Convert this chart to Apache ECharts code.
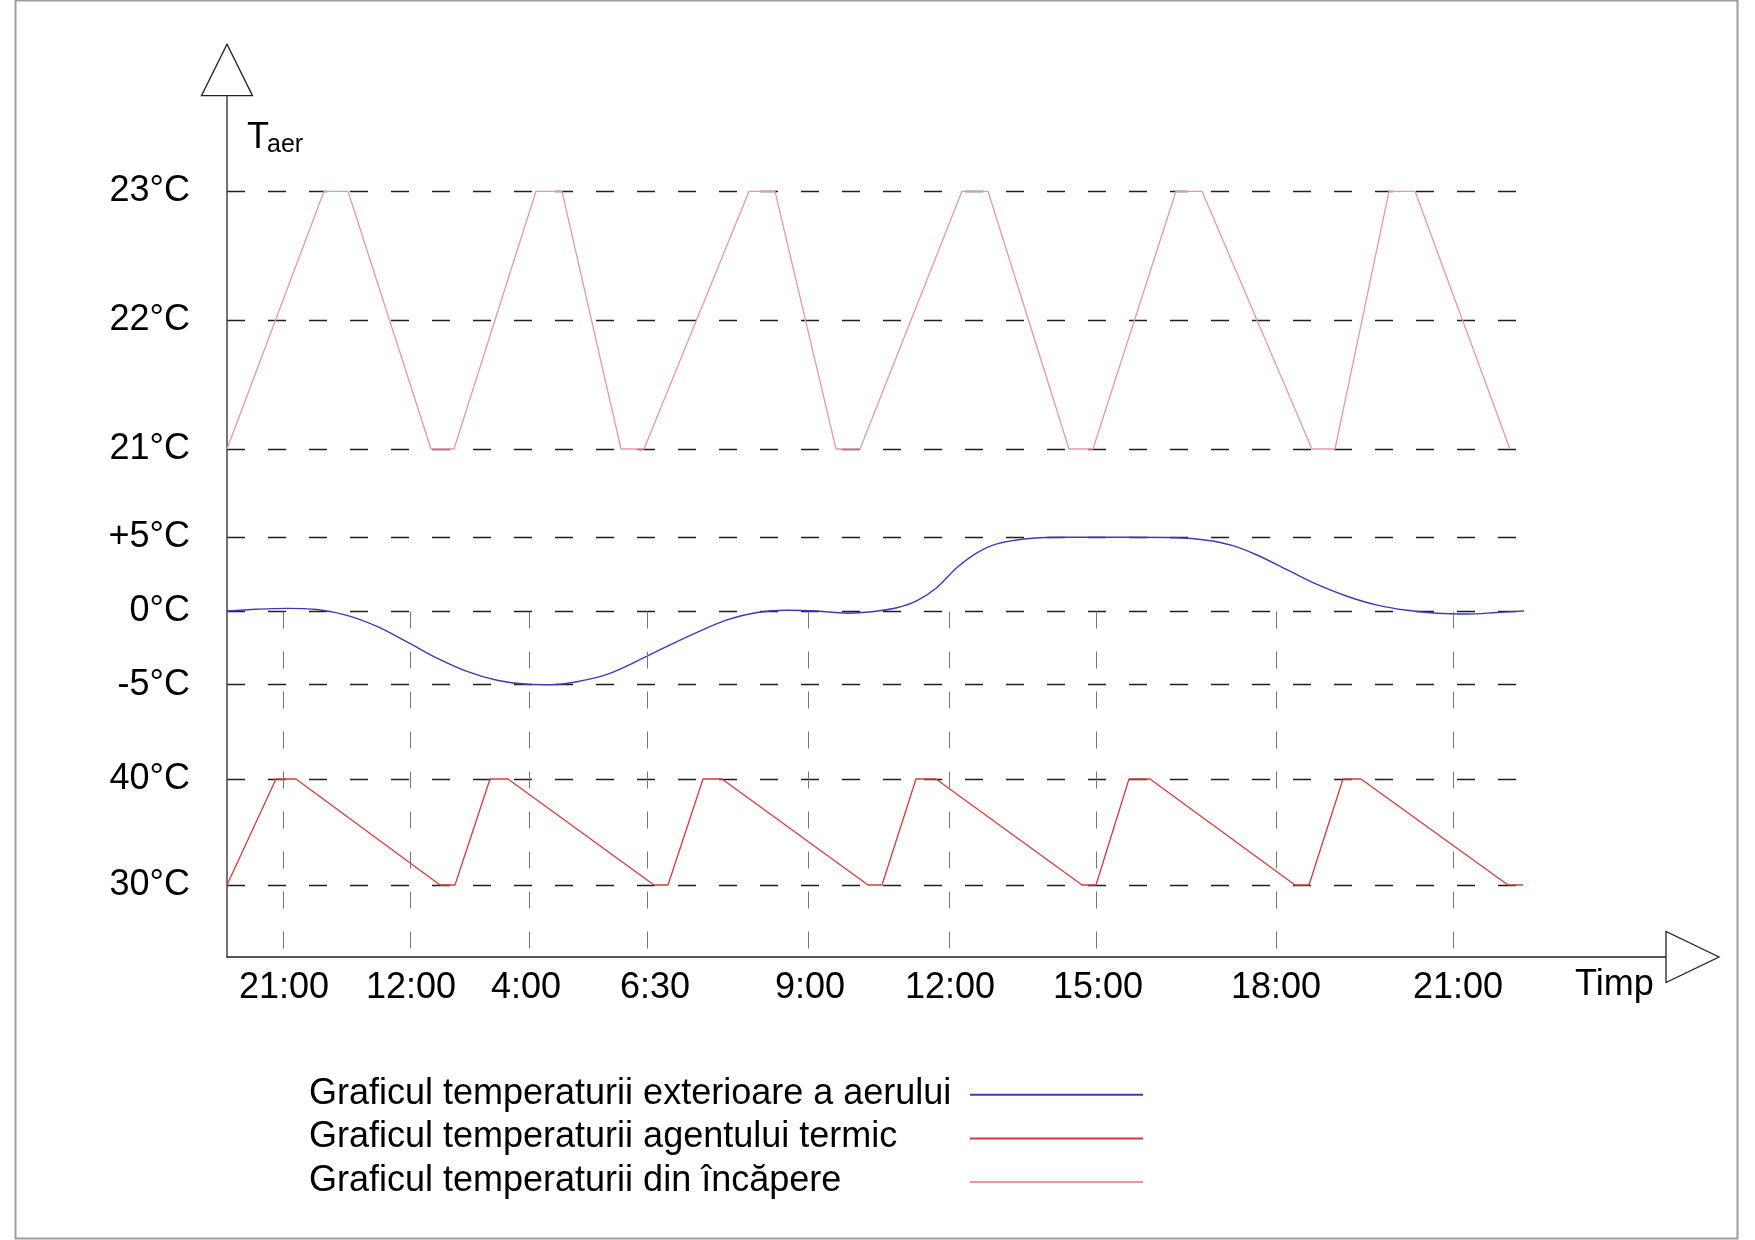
<!DOCTYPE html>
<html><head><meta charset="utf-8">
<script src="https://cdn.jsdelivr.net/npm/echarts@6/dist/echarts.min.js"></script>
<style>html,body{margin:0;padding:0;background:#fff}#c{width:1755px;height:1240px}</style>
</head><body><div id="c"></div><script>
const FONT = "'Liberation Sans', Arial, Helvetica, sans-serif";

// time axis (schematic units)
const timeLabels   = ['21:00','12:00','4:00','6:30','9:00','12:00','15:00','18:00','21:00'];
const timeLabelPos = [5.7, 18.4, 29.9, 42.8, 58.3, 72.3, 87.1, 104.9, 123.1];
const timeLinePos  = [5.6, 18.3, 30.2, 42.0, 58.1, 72.2, 86.9, 104.9, 122.6];

// y tick labels per band
const roomTicks = [21, 22, 23];   const roomTickLabels = ['21°C', '22°C', '23°C'];
const outTicks = [-5, 0, 5];      const outTickLabels = ['-5°C', '0°C', '+5°C'];
const agentTicks = [30, 40];      const agentTickLabels = ['30°C', '40°C'];

// series names
const nameOut = 'Graficul temperaturii exterioare a aerului';
const nameAgent = 'Graficul temperaturii agentului termic';
const nameRoom = 'Graficul temperaturii din încăpere';

// room temperature (21..23 °C)
const roomX = [0, 9.7, 12.1, 20.4, 22.7, 30.9, 33.5, 39.4, 41.7, 52.2, 54.8, 60.9, 63.3, 73.5, 76.1, 84.2, 86.6, 94.9, 97.5, 108.5, 110.8, 116.2, 118.8, 128.3];
const roomT = [21, 23, 23, 21, 21, 23, 23, 21, 21, 23, 23, 21, 21, 23, 23, 21, 21, 23, 23, 21, 21, 23, 23, 21];

// outdoor air temperature (-5..+5 °C)
const outX = [0, 3, 6, 9, 12, 15, 18, 21, 24, 27, 30, 32.5, 35, 38, 41, 44, 47, 50, 53, 56, 59, 62, 64.5, 67, 69, 71, 73, 75, 77, 80, 84, 90, 95, 98, 100.5, 103, 106, 109, 112, 115, 118, 121, 124, 127, 129.7];
const outT = [0, 0.12, 0.18, 0.1, -0.3, -1.05, -2.1, -3.2, -4.1, -4.7, -4.97, -5, -4.8, -4.3, -3.4, -2.4, -1.45, -0.6, -0.1, 0.05, 0, -0.15, -0.05, 0.22, 0.7, 1.6, 2.95, 3.95, 4.55, 4.9, 5, 5, 4.97, 4.8, 4.45, 3.8, 2.8, 1.8, 1.0, 0.4, 0.05, -0.15, -0.2, -0.1, 0];

// thermal agent temperature (30..40 °C)
const agentX = [0, 4.9, 6.9, 21.3, 22.8, 26.3, 28.1, 42.7, 44.1, 47.6, 49.5, 64.1, 65.5, 68.9, 70.9, 85.5, 86.9, 90.2, 92.3, 106.8, 108.2, 111.6, 113.4, 128.1, 129.6];
const agentT = [30, 40, 40, 30, 30, 40, 40, 30, 30, 40, 40, 30, 30, 40, 40, 30, 30, 40, 40, 30, 30, 40, 40, 30, 30];

const zip = (xs, ys) => xs.map((x, i) => [x, ys[i]]);

const AXIS_MAX = 143.9, DATA_MAX = 129.7;
const L = 227;
const gridDash = { type: [18, 23], color: '#1e1e1e', width: 1.4 };

function bandY(idx, min, max, ticks, labels) {
  return {
    type: 'value', gridIndex: idx, min: min, max: max, interval: ticks[1] - ticks[0],
    axisLine: { show: false }, axisTick: { show: false },
    axisLabel: { show: true, margin: 37, fontSize: 36, color: '#000', fontFamily: FONT,
      formatter: v => { const i = ticks.indexOf(v); return i >= 0 ? labels[i] : ''; } },
    splitLine: { show: true, lineStyle: gridDash }
  };
}
function hiddenX(idx) {
  return { type: 'value', gridIndex: idx, min: 0, max: DATA_MAX, show: false };
}

const chart = echarts.init(document.getElementById('c'), null, { renderer: 'canvas' });
const option = {
  backgroundColor: '#fff',
  animation: false,
  textStyle: { fontFamily: FONT },
  grid: [
    { left: L, top: 95.7, width: 1439, height: 861.3, outerBoundsMode: 'none' },
    { left: L, top: 191.3, width: 1297, height: 257.7, outerBoundsMode: 'none' },
    { left: L, top: 537.3, width: 1297, height: 147.4, outerBoundsMode: 'none' },
    { left: L, top: 779, width: 1297, height: 106, outerBoundsMode: 'none' },
    { left: L, top: 611.5, width: 1297, height: 345.5, outerBoundsMode: 'none' }
  ],
  xAxis: [
    { type: 'value', gridIndex: 0, min: 0, max: AXIS_MAX,
      axisLine: { show: true, lineStyle: { color: '#222', width: 1.5 } },
      axisTick: { show: false }, splitLine: { show: false },
      axisLabel: { show: true, customValues: timeLabelPos, margin: 13, fontSize: 36, color: '#000', fontFamily: FONT,
        formatter: v => { const i = timeLabelPos.indexOf(v); return i >= 0 ? timeLabels[i] : ''; } } },
    hiddenX(1), hiddenX(2), hiddenX(3), hiddenX(4)
  ],
  yAxis: [
    { type: 'value', gridIndex: 0, min: 0, max: 1,
      axisLine: { show: true, lineStyle: { color: '#444', width: 1.5 } },
      axisTick: { show: false }, axisLabel: { show: false }, splitLine: { show: false } },
    bandY(1, 21, 23, roomTicks, roomTickLabels),
    bandY(2, -5, 5, outTicks, outTickLabels),
    bandY(3, 30, 40, agentTicks, agentTickLabels),
    { type: 'value', gridIndex: 4, min: 0, max: 1, show: false }
  ],
  legend: {
    orient: 'vertical', left: 304, top: 1068, align: 'right',
    itemWidth: 173, itemHeight: 10, itemGap: 0,
    data: [nameOut, nameAgent, nameRoom],
    itemStyle: { opacity: 0 },
    lineStyle: { width: 2 },
    formatter: name => '{a|' + name + '}',
    textStyle: { fontSize: 36, color: '#000', fontFamily: FONT, lineHeight: 43.6,
      rich: { a: { width: 656, align: 'left', fontSize: 36, color: '#000', fontFamily: FONT, lineHeight: 43.6, padding: [0, 0, 2, 0] } } }
  },
  series: [
    { name: 'grid-lines', type: 'line', xAxisIndex: 4, yAxisIndex: 4, data: [], silent: true,
      markLine: { silent: true, symbol: ['none', 'none'], label: { show: false },
        lineStyle: { type: [17, 23], color: '#777', width: 1 },
        data: timeLinePos.map(v => [{ coord: [v, 1] }, { coord: [v, 0] }]) } },
    { name: nameOut, type: 'line', xAxisIndex: 2, yAxisIndex: 2, data: zip(outX, outT),
      smooth: 0.35, symbol: 'none', clip: false, color: '#3c3cb0',
      lineStyle: { width: 1.4, color: '#3c3cb0' } },
    { name: nameAgent, type: 'line', xAxisIndex: 3, yAxisIndex: 3, data: zip(agentX, agentT),
      symbol: 'none', clip: false, color: '#d23c3c',
      lineStyle: { width: 1.3, color: '#d23c3c' } },
    { name: nameRoom, type: 'line', xAxisIndex: 1, yAxisIndex: 1, data: zip(roomX, roomT),
      symbol: 'none', clip: false, color: '#e49aa2',
      lineStyle: { width: 1.3, color: '#e49aa2' } }
  ]
};
chart.setOption(option);

// axis arrows and axis titles, anchored to the axis ends
const yTop = chart.convertToPixel({ gridIndex: 0 }, [0, 1]);
const xEnd = chart.convertToPixel({ gridIndex: 0 }, [AXIS_MAX, 0]);
const arrowStyle = { fill: '#fff', stroke: '#222', lineWidth: 1.3 };
chart.setOption({
  graphic: [
    { type: 'rect', shape: { x: 15.5, y: 0.5, width: 1722, height: 1238 }, style: { fill: 'none', stroke: '#9c9c9c', lineWidth: 2 }, z: 10 },
    { type: 'polygon', shape: { points: [[yTop[0] - 25.5, yTop[1]], [yTop[0] + 25.5, yTop[1]], [yTop[0], yTop[1] - 51.5]] }, style: arrowStyle, z: 10 },
    { type: 'polygon', shape: { points: [[xEnd[0], xEnd[1] - 25.5], [xEnd[0], xEnd[1] + 25.5], [xEnd[0] + 53, xEnd[1]]] }, style: arrowStyle, z: 10 },
    { type: 'text', style: { x: yTop[0] + 20, y: yTop[1] + 42, text: 'T', font: '36px ' + FONT, fill: '#000', align: 'left', verticalAlign: 'middle' }, z: 10 },
    { type: 'text', style: { x: yTop[0] + 40, y: yTop[1] + 49.6, text: 'aer', font: '25px ' + FONT, fill: '#000', align: 'left', verticalAlign: 'middle' }, z: 10 },
    { type: 'text', style: { x: xEnd[0] - 91, y: xEnd[1] + 28, text: 'Timp', font: '36px ' + FONT, fill: '#000', align: 'left', verticalAlign: 'middle' }, z: 10 }
  ]
});
</script></body></html>
